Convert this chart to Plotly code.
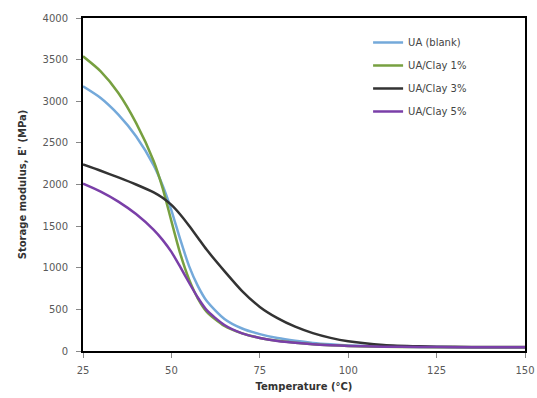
import plotly.graph_objects as go

temp = [25, 30, 35, 40, 45, 47.5, 50, 52.5, 55, 57.5, 60, 65, 70, 75, 80, 85, 90, 95, 100, 110, 120, 130, 140, 150]
ua_blank = [3180, 3040, 2840, 2580, 2230, 1990, 1690, 1340, 1020, 780, 600, 385, 270, 203, 155, 122, 97, 80, 67, 53, 48, 46, 45, 45]
clay1 = [3540, 3360, 3100, 2740, 2280, 1960, 1560, 1170, 860, 630, 470, 300, 212, 157, 122, 100, 82, 70, 61, 51, 47, 45, 45, 45]
clay3 = [2240, 2165, 2085, 2000, 1905, 1840, 1755, 1640, 1505, 1360, 1215, 960, 720, 530, 395, 292, 215, 158, 117, 72, 56, 50, 48, 48]
clay5 = [2010, 1915, 1795, 1645, 1455, 1335, 1190, 1010, 820, 640, 490, 312, 212, 157, 121, 98, 81, 70, 61, 52, 48, 46, 45, 45]

names = ["UA (blank)", "UA/Clay 1%", "UA/Clay 3%", "UA/Clay 5%"]
series = [ua_blank, clay1, clay3, clay5]
colors = ["#74A9DA", "#77A040", "#333333", "#7A3FA8"]

fig = go.Figure()
for n, s, c in zip(names, series, colors):
    fig.add_trace(go.Scatter(x=temp, y=s, name=n, mode="lines", legendgroup=n,
                             line=dict(color=c, width=2.5, shape="spline", smoothing=0.7)))

tickfont = dict(family="DejaVu Sans", size=10, color="#595959")
axis_common = dict(showline=True, linecolor="black", linewidth=2, mirror=True,
                   ticks="outside", ticklen=5, tickcolor="#888", showgrid=False, zeroline=False,
                   tickfont=tickfont, automargin=False)
fig.update_xaxes(range=[25, 150], tickvals=[25, 50, 75, 100, 125, 150], ticklabelstandoff=4,
                 title=dict(text="<b>Temperature (°C)</b>", font=dict(family="DejaVu Sans", size=10, color="#333"), standoff=8),
                 **axis_common)
fig.update_yaxes(range=[0, 4000], tickvals=list(range(0, 4001, 500)), ticklabelstandoff=6,
                 title=dict(text="<b>Storage modulus, E' (MPa)</b>", font=dict(family="DejaVu Sans", size=10, color="#333"), standoff=14),
                 **axis_common)
fig.update_layout(width=537, height=398, margin=dict(l=83, r=12, t=18, b=47),
                  plot_bgcolor="white", paper_bgcolor="white",
                  legend=dict(x=0.645, y=0.97, xanchor="left", yanchor="top", bgcolor="rgba(0,0,0,0)",
                              font=dict(family="DejaVu Sans", size=10, color="#444"), itemwidth=30,
                              tracegroupgap=4))
fig.write_html("out.html")
